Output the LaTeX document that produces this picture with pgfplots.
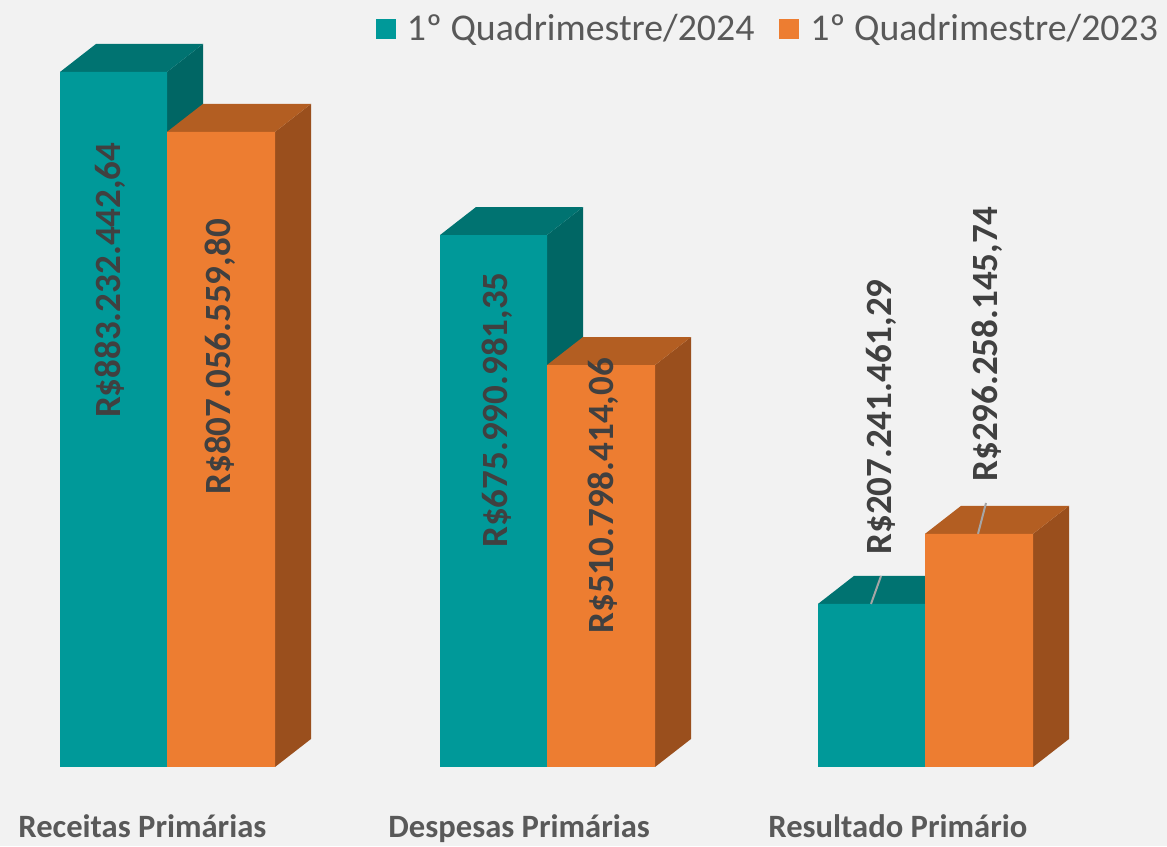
\documentclass[border=0pt]{standalone}
\usepackage{pgfplots}
\pgfplotsset{compat=1.18}
\usepackage{fontspec}
\setmainfont{Carlito}
\definecolor{bg}{HTML}{F2F2F2}
\definecolor{tealF}{HTML}{009999}
\definecolor{tealT}{HTML}{007371}
\definecolor{tealS}{HTML}{006664}
\definecolor{orF}{HTML}{ED7D31}
\definecolor{orT}{HTML}{B35E22}
\definecolor{orS}{HTML}{9A4F1D}
\definecolor{lbl}{HTML}{404040}
\definecolor{txt}{HTML}{595959}
\definecolor{lead}{HTML}{A6A6A6}
\begin{document}
\begin{tikzpicture}
\begin{axis}[
  scale only axis, width=583.5pt, height=423pt,
  xmin=0, xmax=1167, ymin=-100.4, ymax=974.7,
  axis line style={draw=none}, ticks=none,
  axis background/.style={fill=bg},
  clip=false,
  legend columns=2,
  legend cell align=left,
  legend style={draw=none, fill=none, font=\fontsize{18.9}{20}\selectfont\color{txt},
    at={(axis description cs:0.996,0.988)}, anchor=north east,
    /tikz/every even column/.append style={column sep=10.5pt},
    /tikz/every odd column/.append style={column sep=3.5pt},
    inner sep=0pt},
  legend image code/.code={\fill[#1] (0pt,-5pt) rectangle (10pt,5pt);},
]
% ---- teal side & top faces
\addplot[fill=tealS, draw=none, forget plot] coordinates {(167,0)(203,35.6)(203,918.83)(167,883.23)} -- cycle;
\addplot[fill=tealT, draw=none, forget plot] coordinates {(60,883.23)(167,883.23)(203,918.83)(96,918.83)} -- cycle;
\addplot[fill=tealS, draw=none, forget plot] coordinates {(547,0)(583,35.6)(583,711.59)(547,675.99)} -- cycle;
\addplot[fill=tealT, draw=none, forget plot] coordinates {(440,675.99)(547,675.99)(583,711.59)(476,711.59)} -- cycle;
\addplot[fill=tealS, draw=none, forget plot] coordinates {(925,0)(961,35.6)(961,242.84)(925,207.24)} -- cycle;
\addplot[fill=tealT, draw=none, forget plot] coordinates {(818,207.24)(925,207.24)(961,242.84)(854,242.84)} -- cycle;
% ---- teal front faces
\addplot[ybar, bar width=107, bar shift=0pt, fill=tealF, draw=none] coordinates {(113.5,883.23)(493.5,675.99)(871.5,207.24)};
\addlegendentry{1º Quadrimestre/2024}
% ---- orange side & top faces
\addplot[fill=orS, draw=none, forget plot] coordinates {(275,0)(311,35.6)(311,842.66)(275,807.06)} -- cycle;
\addplot[fill=orT, draw=none, forget plot] coordinates {(167,807.06)(275,807.06)(311,842.66)(203,842.66)} -- cycle;
\addplot[fill=orS, draw=none, forget plot] coordinates {(655,0)(691,35.6)(691,546.40)(655,510.80)} -- cycle;
\addplot[fill=orT, draw=none, forget plot] coordinates {(547,510.80)(655,510.80)(691,546.40)(583,546.40)} -- cycle;
\addplot[fill=orS, draw=none, forget plot] coordinates {(1033,0)(1069,35.6)(1069,331.86)(1033,296.26)} -- cycle;
\addplot[fill=orT, draw=none, forget plot] coordinates {(925,296.26)(1033,296.26)(1069,331.86)(961,331.86)} -- cycle;
% ---- orange front faces
\addplot[ybar, bar width=108, bar shift=0pt, fill=orF, draw=none] coordinates {(221,807.06)(601,510.80)(979,296.26)};
\addlegendentry{1º Quadrimestre/2023}
% ---- leader lines
\addplot[lead, line width=1pt, forget plot] coordinates {(871,207.24)(881,242.7)};
\addplot[lead, line width=1pt, forget plot] coordinates {(978,296.26)(986,335.5)};
% ---- data labels
\begin{scope}[every node/.style={rotate=90, text=lbl, font=\fontsize{18.5}{20}\selectfont\bfseries, inner sep=0pt}]
\node at (axis cs:110,618.5) {R\$883.232.442,64};
\node at (axis cs:220,521.2) {R\$807.056.559,80};
\node at (axis cs:497,453.6) {R\$675.990.981,35};
\node at (axis cs:603,344.6) {R\$510.798.414,06};
\node at (axis cs:881,444.8) {R\$207.241.461,29};
\node at (axis cs:987,537.6) {R\$296.258.145,74};
\end{scope}
% ---- category labels
\begin{scope}[every node/.style={anchor=base west, text=txt, font=\fontsize{16.3}{18}\selectfont\bfseries, inner sep=0pt}]
\node at (axis cs:18,-90.2) {Receitas Primárias};
\node at (axis cs:388,-90.2) {Despesas Primárias};
\node at (axis cs:768,-90.2) {Resultado Primário};
\end{scope}
\end{axis}
\end{tikzpicture}
\end{document}
